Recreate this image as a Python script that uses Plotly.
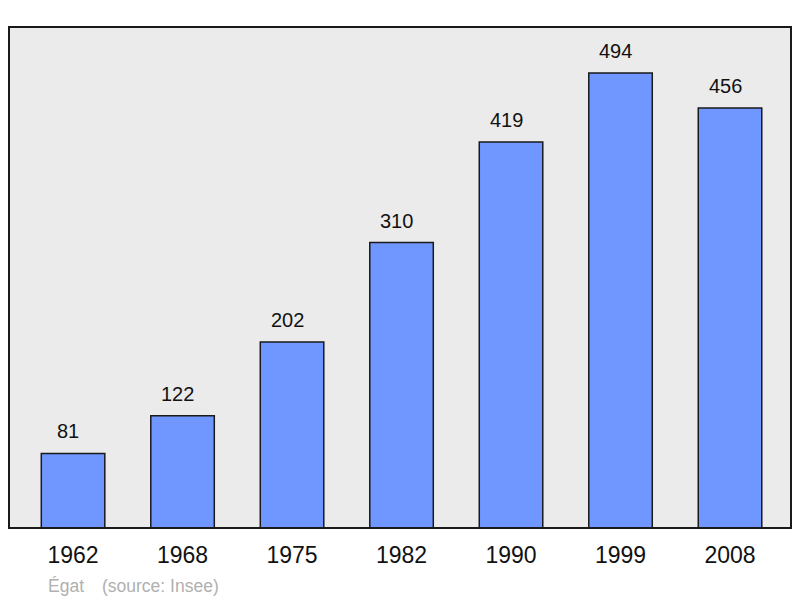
import plotly.graph_objects as go

years = ["1962", "1968", "1975", "1982", "1990", "1999", "2008"]
population = [81, 122, 202, 310, 419, 494, 456]

xs = list(range(len(years)))

fig = go.Figure()
fig.add_trace(go.Bar(
    x=xs, y=population, width=0.58,
    marker=dict(color="#7097ff", line=dict(color="#1a1a1a", width=1.5)),
    hoverinfo="skip",
))

for i, v in zip(xs, population):
    fig.add_annotation(x=i, y=v, text=str(v), showarrow=False,
                       yanchor="bottom", yshift=9, xshift=-5,
                       font=dict(family="Liberation Sans, Arial", size=20, color="#111"))

fig.add_annotation(xref="paper", yref="paper", x=(46 - 9) / 782, y=-58 / 501,
                   xanchor="left", yanchor="middle", showarrow=False,
                   text="Égat",
                   font=dict(family="Liberation Sans, Arial", size=17.5, color="#b0b0b0"))
fig.add_annotation(xref="paper", yref="paper", x=(100 - 9) / 782, y=-58 / 501,
                   xanchor="left", yanchor="middle", showarrow=False,
                   text="(source: Insee)",
                   font=dict(family="Liberation Sans, Arial", size=17.5, color="#b0b0b0"))

fig.add_shape(type="rect", xref="paper", yref="paper", x0=0, y0=0, x1=1, y1=1,
              line=dict(color="#1a1a1a", width=2), layer="above")

fig.update_layout(
    width=800, height=598,
    margin=dict(l=1, r=17, t=19, b=78),
    paper_bgcolor="white", plot_bgcolor="#ebebeb",
    showlegend=False,
    xaxis=dict(range=[-0.585, 6.557], tickvals=xs, ticktext=years,
               showgrid=False, zeroline=False, ticks="",
               tickfont=dict(family="Liberation Sans, Arial", size=23, color="#111"),
               ticklabelstandoff=11),
    yaxis=dict(range=[0, 544], showgrid=False, zeroline=False,
               showticklabels=False, ticks=""),
)

fig.write_html("out.html")
